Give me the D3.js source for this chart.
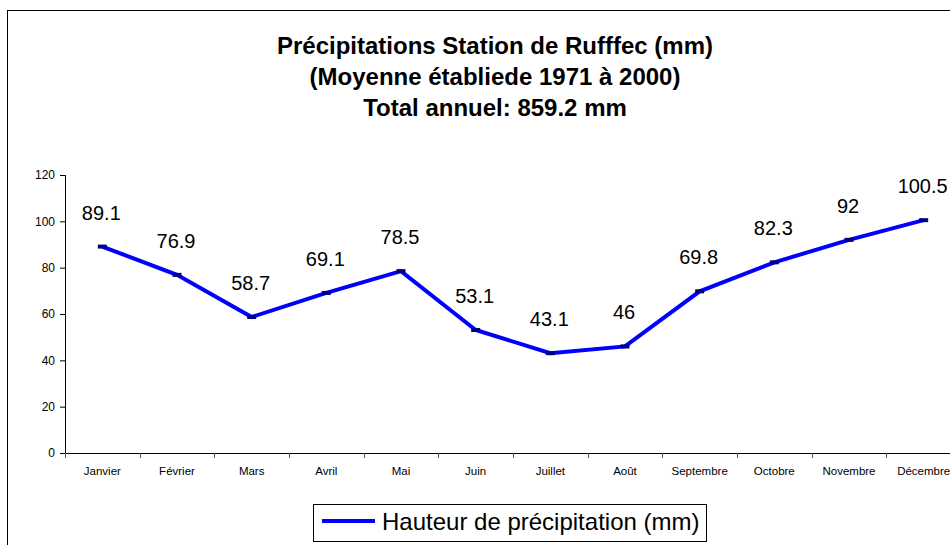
<!DOCTYPE html>
<html>
<head>
<meta charset="utf-8">
<script src="https://cdn.jsdelivr.net/npm/d3@7"></script>
<style>
  html, body { margin: 0; padding: 0; background: #fff; }
  svg { display: block; font-family: "Liberation Sans", Arial, sans-serif; }
</style>
</head>
<body>
<svg id="chart" width="950" height="545"></svg>
<script>
// Monthly mean precipitation, Ruffec station (1971–2000)
const months = ["Janvier", "Février", "Mars", "Avril", "Mai", "Juin",
                "Juillet", "Août", "Septembre", "Octobre", "Novembre", "Décembre"];
const precipitation = [89.1, 76.9, 58.7, 69.1, 78.5, 53.1, 43.1, 46, 69.8, 82.3, 92, 100.5];
const yTicks = [0, 20, 40, 60, 80, 100, 120];
const titleLines = ["Précipitations Station de Rufffec (mm)",
                    "(Moyenne établiede 1971 à 2000)",
                    "Total annuel: 859.2 mm"];
const seriesName = "Hauteur de précipitation (mm)";

const svg = d3.select("#chart");

// chart frame
svg.append("rect")
  .attr("x", 7.5).attr("y", 10.5)
  .attr("width", 1000).attr("height", 600)
  .attr("fill", "#fff").attr("stroke", "#000").attr("stroke-width", 1);

// title
const title = svg.append("text")
  .attr("text-anchor", "middle")
  .attr("font-weight", "bold")
  .attr("font-size", 24)
  .attr("fill", "#000");
titleLines.forEach((t, i) => {
  title.append("tspan").attr("x", 495).attr("y", 54 + i * 31).text(t);
});

// plot area
const plot = { left: 65, right: 961, top: 175, bottom: 453 };

const x = d3.scaleBand().domain(months).range([plot.left, plot.right]).padding(0);
const y = d3.scaleLinear().domain([0, 120]).range([plot.bottom, plot.top]);

// y axis
const yAxis = svg.append("g")
  .attr("transform", `translate(${plot.left},0)`)
  .call(d3.axisLeft(y).tickValues(yTicks).tickSize(5).tickPadding(5).tickFormat(d3.format("d")));
yAxis.select(".domain").attr("stroke", "#000").attr("d", `M0.5,${plot.top}V${plot.bottom + 0.5}`);
yAxis.selectAll(".tick line").attr("stroke", "#000");
yAxis.selectAll(".tick text").attr("font-size", 12).attr("fill", "#000")
  .attr("font-family", "'Liberation Sans', Arial, sans-serif");

// x axis: ticks at category boundaries
const xAxisG = svg.append("g").attr("transform", `translate(0,${plot.bottom})`);
xAxisG.append("line")
  .attr("x1", plot.left - 5).attr("x2", plot.right)
  .attr("y1", 0.5).attr("y2", 0.5)
  .attr("stroke", "#000");
xAxisG.selectAll("line.tk")
  .data(months)
  .join("line")
  .attr("class", "tk")
  .attr("x1", d => Math.round(x(d)) + 0.5).attr("x2", d => Math.round(x(d)) + 0.5)
  .attr("y1", 0).attr("y2", 5)
  .attr("stroke", "#555");
xAxisG.selectAll("text")
  .data(months)
  .join("text")
  .attr("x", d => x(d) + x.bandwidth() / 2)
  .attr("y", 22)
  .attr("text-anchor", "middle")
  .attr("font-size", 11.5)
  .attr("fill", "#000")
  .text(d => d);

// series line
const data = months.map((m, i) => ({ month: m, value: precipitation[i] }));
const cx = d => x(d.month) + x.bandwidth() / 2;

svg.append("path")
  .datum(data)
  .attr("fill", "none")
  .attr("stroke", "#0000FF")
  .attr("stroke-width", 4)
  .attr("stroke-linejoin", "miter")
  .attr("d", d3.line().x(cx).y(d => y(d.value)));

// dash markers
svg.selectAll("rect.marker")
  .data(data)
  .join("rect")
  .attr("class", "marker")
  .attr("x", d => cx(d) - 4.5)
  .attr("y", d => y(d.value) - 2)
  .attr("width", 9).attr("height", 4)
  .attr("fill", "#000080");

// value labels
svg.selectAll("text.val")
  .data(data)
  .join("text")
  .attr("class", "val")
  .attr("x", d => cx(d) - 1)
  .attr("y", d => y(d.value) - 27)
  .attr("text-anchor", "middle")
  .attr("font-size", 20)
  .attr("fill", "#000")
  .text(d => d.value);

// legend
const legend = svg.append("g");
legend.append("rect")
  .attr("x", 313.5).attr("y", 504.5)
  .attr("width", 393).attr("height", 37)
  .attr("fill", "#fff").attr("stroke", "#000").attr("stroke-width", 1);
legend.append("line")
  .attr("x1", 322).attr("x2", 375)
  .attr("y1", 521).attr("y2", 521)
  .attr("stroke", "#0000FF").attr("stroke-width", 4);
legend.append("text")
  .attr("x", 382).attr("y", 530)
  .attr("font-size", 24)
  .attr("fill", "#000")
  .text(seriesName);
</script>
</body>
</html>
